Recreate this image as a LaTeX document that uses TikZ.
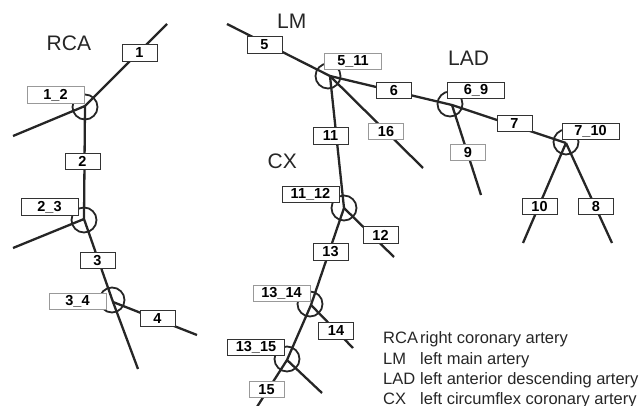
\documentclass[tikz,border=0pt]{standalone}
\usepackage{fontspec}
\setmainfont{Liberation Sans}
\begin{document}
\begin{tikzpicture}[x=1pt,y=-1pt,
  vessel/.style={line width=2.3pt, draw=black!85},
  junc/.style={circle, draw=black!85, line width=1.8pt, minimum size=25pt, inner sep=0pt},
  seg/.style={draw=black!80, fill=white, line width=0.9pt, minimum width=35pt, minimum height=16.5pt, inner sep=0pt, font=\bfseries\fontsize{14.5}{14.5}\selectfont},
  segg/.style={seg, draw=black!40},
  jl/.style={seg, minimum width=57pt},
  jlg/.style={jl, draw=black!40},
  big/.style={anchor=base west, inner sep=0pt, font=\fontsize{21}{21}\selectfont, text=black!85},
  leg/.style={anchor=base west, inner sep=0pt, font=\fontsize{16.5}{16.5}\selectfont, text=black!85}]
\useasboundingbox (0,0) rectangle (643,406);
% coordinates
\coordinate (r1) at (167,24);
\coordinate (j12) at (85,106);
\coordinate (r12) at (13,136);
\coordinate (j23) at (84,219);
\coordinate (r23) at (13,248);
\coordinate (j34) at (113,302);
\coordinate (r3) at (138,369);
\coordinate (r4) at (197,335);
\coordinate (l5) at (227,24);
\coordinate (j511) at (330,76);
\coordinate (j69) at (452,105);
\coordinate (j710) at (566,143);
\coordinate (e9) at (481,195);
\coordinate (e10) at (523,243);
\coordinate (e8) at (612,243);
\coordinate (e16) at (423,168);
\coordinate (j1112) at (344,208);
\coordinate (e12) at (394,257);
\coordinate (j1314) at (311,305);
\coordinate (e14) at (353,348);
\coordinate (j1315) at (287,360);
\coordinate (e13) at (255,410);
\coordinate (e15) at (322,393);
% vessels
\draw[vessel] (r1) -- (j12) -- (j23) -- (j34) -- (r3);
\draw[vessel] (r12) -- (j12);
\draw[vessel] (r23) -- (j23);
\draw[vessel] (j34) -- (r4);
\draw[vessel] (l5) -- (j511) -- (j69) -- (j710);
\draw[vessel] (j69) -- (e9);
\draw[vessel] (j710) -- (e10);
\draw[vessel] (j710) -- (e8);
\draw[vessel] (j511) -- (e16);
\draw[vessel] (j511) -- (j1112) -- (j1314) -- (j1315) -- (e13);
\draw[vessel] (j1112) -- (e12);
\draw[vessel] (j1314) -- (e14);
\draw[vessel] (j1315) -- (e15);
% junction circles
\node[junc] (c12) at (85,107) {};
\node[junc] (c23) at (84,220) {};
\node[junc] (c34) at (112,300) {};
\node[junc] (c511) at (328,76) {};
\node[junc] (c69) at (450,104) {};
\node[junc] (c710) at (566,142) {};
\node[junc] (c1112) at (344,208) {};
\node[junc] (c1314) at (310,304) {};
\node[junc] (c1315) at (287,359) {};
% segment labels
\node[seg] (b1) at (139.5,53) {1};
\node[jlg] (b12) at (55.5,95) {1\_2};
\node[seg] (b2) at (82.5,161.5) {2};
\node[jl] (b23) at (49.5,207) {2\_3};
\node[seg] (b3) at (97.5,260.5) {3};
\node[jlg] (b34) at (77.5,301.5) {3\_4};
\node[seg] (b4) at (157.5,318.5) {4};
\node[seg] (b5) at (264.5,45) {5};
\node[jlg] (b511) at (353,61.5) {5\_11};
\node[seg] (b6) at (394,90.5) {6};
\node[jl] (b69) at (476,90.5) {6\_9};
\node[seg] (b7) at (514.5,123.5) {7};
\node[jl] (b710) at (590.5,131.5) {7\_10};
\node[segg] (b9) at (468,152.5) {9};
\node[seg] (b10) at (539.5,206.5) {10};
\node[seg] (b8) at (596,206.5) {8};
\node[segg] (b16) at (386,131.5) {16};
\node[seg] (b11) at (330.5,136) {11};
\node[jl] (b1112) at (310.5,194.5) {11\_12};
\node[seg] (b12s) at (380.5,235) {12};
\node[seg] (b13) at (330.5,252) {13};
\node[jlg] (b1314) at (281.5,293.5) {13\_14};
\node[seg] (b14) at (336,331) {14};
\node[jl] (b1315) at (256,347.5) {13\_15};
\node[segg] (b15) at (266.5,389.5) {15};
% artery names
\node[big] (tRCA) at (46.5,51) {RCA};
\node[big] (tLM) at (277,28.3) {LM};
\node[big] (tLAD) at (448,66) {LAD};
\node[big] (tCX) at (267.5,169) {CX};
% legend
\node[leg] (a1) at (383,344) {RCA};
\node[leg] (d1) at (420,344) {right coronary artery};
\node[leg] (a2) at (383,364) {LM};
\node[leg] (d2) at (420,364) {left main artery};
\node[leg] (a3) at (383,384) {LAD};
\node[leg] (d3) at (420,384) {left anterior descending artery};
\node[leg] (a4) at (383,404) {CX};
\node[leg] (d4) at (420,404) {left circumflex coronary artery};
\end{tikzpicture}
\end{document}
